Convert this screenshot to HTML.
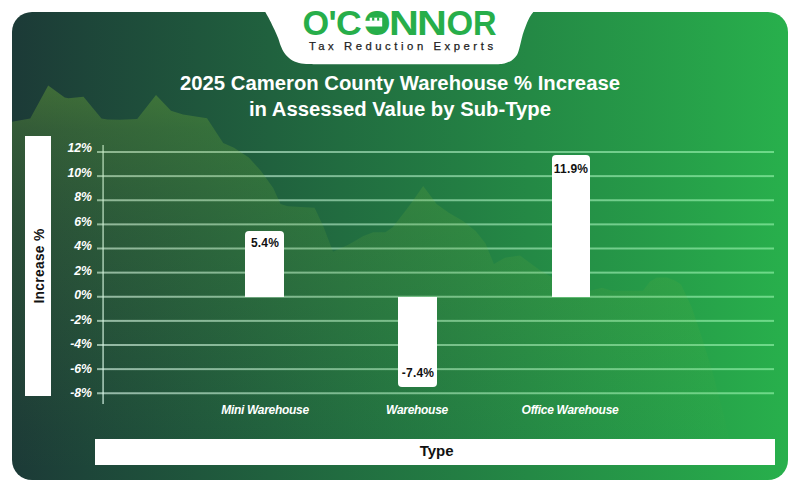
<!DOCTYPE html>
<html>
<head>
<meta charset="utf-8">
<style>
html,body{margin:0;padding:0;background:#fff;}
body{width:800px;height:492px;position:relative;overflow:hidden;font-family:"Liberation Sans",Arial,sans-serif;}
.card{position:absolute;left:12px;top:12px;width:776px;height:468px;border-radius:20px;overflow:hidden;background:linear-gradient(90deg,#1c3a37 0%,#28b04c 100%);}
.card svg{position:absolute;left:0;top:0;}
.abs{position:absolute;white-space:nowrap;}
.title{left:0;width:800px;text-align:center;color:#fff;font-weight:bold;font-size:20.3px;line-height:25.5px;}
.ylab{position:absolute;color:#fff;font-weight:bold;font-style:italic;font-size:12.3px;line-height:12px;text-align:right;width:40px;}
.xlab{position:absolute;color:#fff;font-weight:bold;font-style:italic;font-size:12px;letter-spacing:-0.3px;line-height:12px;text-align:center;width:160px;}
.bar{position:absolute;background:#fff;}
.val{position:absolute;color:#111;font-weight:bold;font-size:12px;letter-spacing:0.2px;line-height:12px;text-align:center;width:60px;}
.logo{color:#27ae4a;font-weight:bold;font-size:34.3px;line-height:34px;}
.logo span{display:inline-block;transform-origin:0 0;}
.tag{color:#222;font-size:11.3px;line-height:12px;letter-spacing:3.55px;-webkit-text-stroke:0.25px #222;}
.yt{color:#111;font-weight:bold;font-size:13.8px;letter-spacing:0.3px;line-height:14px;transform:translate(-50%,-50%) rotate(-90deg);}
</style>
</head>
<body>
<div class="card">
<svg width="776" height="468" viewBox="12 12 776 468">
<defs>
<linearGradient id="mg" gradientUnits="userSpaceOnUse" x1="0" y1="85" x2="0" y2="470">
<stop offset="0" stop-color="rgb(115,175,55)" stop-opacity="0.40"/>
<stop offset="0.117" stop-color="rgb(115,175,55)" stop-opacity="0.27"/>
<stop offset="0.273" stop-color="rgb(115,175,55)" stop-opacity="0.20"/>
<stop offset="0.377" stop-color="rgb(115,175,55)" stop-opacity="0.16"/>
<stop offset="0.636" stop-color="rgb(115,175,55)" stop-opacity="0.09"/>
<stop offset="0.896" stop-color="rgb(115,175,55)" stop-opacity="0.02"/>
<stop offset="1" stop-color="rgb(115,175,55)" stop-opacity="0"/>
</linearGradient>
<linearGradient id="gl" gradientUnits="userSpaceOnUse" x1="97" y1="0" x2="774" y2="0">
<stop offset="0" stop-color="rgb(228,255,246)" stop-opacity="0.62"/>
<stop offset="0.36" stop-color="rgb(186,240,205)" stop-opacity="0.6"/>
<stop offset="1" stop-color="rgb(155,246,176)" stop-opacity="0.6"/>
</linearGradient>
</defs>
<rect x="97" y="151.000" width="677" height="2" fill="url(#gl)"/>
<rect x="97" y="175.125" width="677" height="2" fill="url(#gl)"/>
<rect x="97" y="199.250" width="677" height="2" fill="url(#gl)"/>
<rect x="97" y="223.375" width="677" height="2" fill="url(#gl)"/>
<rect x="97" y="247.500" width="677" height="2" fill="url(#gl)"/>
<rect x="97" y="271.625" width="677" height="2" fill="url(#gl)"/>
<rect x="97" y="295.750" width="677" height="2" fill="url(#gl)"/>
<rect x="97" y="319.875" width="677" height="2" fill="url(#gl)"/>
<rect x="97" y="344.000" width="677" height="2" fill="url(#gl)"/>
<rect x="97" y="368.125" width="677" height="2" fill="url(#gl)"/>
<rect x="97" y="392.250" width="677" height="2" fill="url(#gl)"/>
<rect x="102.2" y="145" width="1.8" height="259" fill="rgba(228,255,246,0.62)"/>
<path fill="url(#mg)" d="M0,122 L12,121.8 L30.2,118.5 L48.2,85.5 L64.7,97.5 L68.5,98.2 L83.5,96.7 L101.5,118.5 L107.5,119.5 L120,119.7 L137.2,119 L156,95 L171,110.7 L183,114.5 L207,118.2 L223.2,143 L234,147.8 L248.8,157.6 L261,171 L273.2,188 L280.5,204 L287.8,206.3 L309.8,207.6 L314.6,207.8 L323.2,226 L333,251.7 L348.8,244.4 L363.4,235.9 L373.2,232.2 L385.4,232.2 L392.7,227.3 L404.9,211.5 L412.2,201.7 L423.2,185.9 L436.6,204 L448.8,212.7 L463.4,221.2 L475.6,231 L485.4,243.2 L493.9,263.9 L504.9,257.8 L520,255.4 L538.9,269.4 L560,282 L590,290.8 L602,287.8 L612,290.8 L643,290.8 L650,281.5 L657,277.5 L667,277.6 L675,280.5 L681,284.5 L691.6,307 L701,335 L712,370 L725,420 L740,492 L0,492 Z"/>
</svg>
</div>
<!-- white logo tab -->
<svg class="abs" style="left:0;top:0" width="800" height="70" viewBox="0 0 800 70">
<path fill="#fff" d="M262,0 L262,12 L265.3,12 C266.05,13.37 268.25,17.20 269.80,20.20 C271.35,23.20 273.18,26.95 274.60,30.00 C276.02,33.05 277.28,35.87 278.30,38.50 C279.32,41.13 279.68,43.37 280.70,45.80 C281.72,48.23 282.77,50.87 284.40,53.10 C286.03,55.33 288.07,57.57 290.50,59.20 C292.93,60.83 295.95,62.08 299.00,62.90 C302.05,63.72 305.30,63.87 308.80,64.10 C312.30,64.33 318.13,64.27 320.00,64.30 L485,64.3 C487.22,64.28 495.07,64.33 498.30,64.20 C501.53,64.07 502.17,64.13 504.40,63.50 C506.63,62.87 509.67,61.72 511.70,60.40 C513.73,59.08 515.38,57.42 516.60,55.60 C517.82,53.78 518.28,51.75 519.00,49.50 C519.72,47.25 520.28,44.55 520.90,42.10 C521.52,39.65 521.90,37.43 522.70,34.80 C523.50,32.17 524.58,29.13 525.70,26.30 C526.82,23.47 528.13,20.18 529.40,17.80 C530.67,15.42 532.65,12.97 533.30,12.00 L537,12 L537,0 Z"/>
</svg>
<!-- logo -->
<div class="abs logo" style="left:302.6px;top:6px;"><span style="width:25.8px">O</span><span style="width:8px">'</span><span style="width:27.3px;transform:scaleX(1.04)">C</span><span style="width:25.5px">O</span><span style="width:28.2px;transform:scaleX(1.206)">N</span><span style="width:29px;transform:scaleX(1.206)">N</span><span style="width:26.6px">O</span><span style="width:24px;transform:scaleX(0.95)">R</span></div>
<svg class="abs" style="left:0;top:0" width="800" height="60" viewBox="0 0 800 60">
<circle cx="376.9" cy="23.4" r="9.3" fill="#27ae4a"/>
<rect x="362" y="20.8" width="20.2" height="5.7" fill="#fff"/>
<rect x="369.7" y="17.7" width="12.5" height="3.2" fill="#fff"/>
<rect x="372.1" y="17.4" width="2.2" height="3.2" fill="#27ae4a"/>
<rect x="377.1" y="17.4" width="2.1" height="3.2" fill="#27ae4a"/>
</svg>
<div class="abs tag" style="left:309px;top:40.4px;">Tax Reduction Experts</div>
<!-- title -->
<div class="abs title" style="top:71px;">2025 Cameron County Warehouse % Increase<br>in Assessed Value by Sub-Type</div>
<!-- y axis label box -->
<div class="abs" style="left:25px;top:136px;width:26px;height:260px;background:#fff;"></div>
<div class="abs yt" style="left:40px;top:265.5px;">Increase %</div>
<!-- type box -->
<div class="abs" style="left:95px;top:439px;width:680px;height:26px;background:#fff;"></div>
<div class="abs" style="left:96.6px;top:438px;width:680px;height:26px;line-height:26px;text-align:center;font-weight:bold;font-size:15px;color:#111;">Type</div>

<div class="ylab" style="left:52px;top:142.25px">12%</div>
<div class="ylab" style="left:52px;top:166.75px">10%</div>
<div class="ylab" style="left:52px;top:191.25px">8%</div>
<div class="ylab" style="left:52px;top:215.75px">6%</div>
<div class="ylab" style="left:52px;top:240.25px">4%</div>
<div class="ylab" style="left:52px;top:264.75px">2%</div>
<div class="ylab" style="left:52px;top:289.25px">0%</div>
<div class="ylab" style="left:52px;top:313.75px">-2%</div>
<div class="ylab" style="left:52px;top:338.25px">-4%</div>
<div class="ylab" style="left:52px;top:362.75px">-6%</div>
<div class="ylab" style="left:52px;top:387.25px">-8%</div>
<!-- bars -->
<div class="bar" style="left:245.3px;top:231.4px;width:38.9px;height:65.4px;border-radius:4px 4px 0 0;"></div>
<div class="bar" style="left:398.4px;top:296.8px;width:38.5px;height:89.9px;border-radius:0 0 4px 4px;"></div>
<div class="bar" style="left:551.5px;top:155.2px;width:38.6px;height:141.6px;border-radius:4px 4px 0 0;"></div>
<div class="val" style="left:235px;top:237px;">5.4%</div>
<div class="val" style="left:388px;top:367px;">-7.4%</div>
<div class="val" style="left:541px;top:163px;">11.9%</div>
<!-- x labels -->
<div class="xlab" style="left:185px;top:403.5px;">Mini Warehouse</div>
<div class="xlab" style="left:337px;top:403.5px;">Warehouse</div>
<div class="xlab" style="left:490px;top:403.5px;">Office Warehouse</div>

</body>
</html>
